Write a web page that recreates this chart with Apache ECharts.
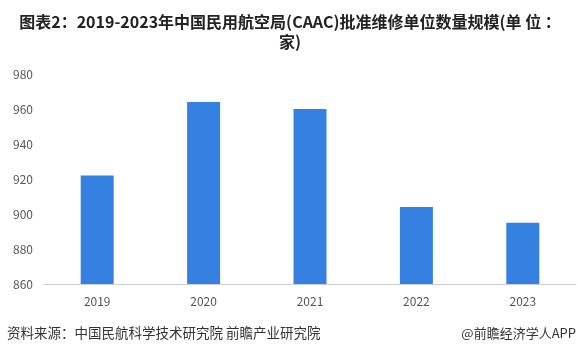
<!DOCTYPE html>
<html>
<head>
<meta charset="utf-8">
<script src="https://cdn.jsdelivr.net/npm/echarts@6/dist/echarts.min.js"></script>
<style>
html,body{margin:0;padding:0;background:#fff;}
#c{width:580px;height:356px;}
</style>
</head>
<body>
<div id="c"></div>
<script>
const categories = ['2019', '2020', '2021', '2022', '2023'];
const values = [922, 964, 960, 904, 895];
const yTicks = { min: 860, max: 980, interval: 20 };
const titleText = '图表2：2019-2023年中国民用航空局(CAAC)批准维修单位数量规模(单 位 ：\n家)';
const sourceText = '资料来源：中国民航科学技术研究院 前瞻产业研究院';
const brandText = '@前瞻经济学人APP';

const FONT = '"Noto Sans CJK SC", "Noto Sans", sans-serif';
const chart = echarts.init(document.getElementById('c'), null, { renderer: 'canvas' });
chart.setOption({
  backgroundColor: '#fff',
  animation: false,
  title: {
    text: titleText,
    left: 'center',
    top: 7,
    textStyle: { fontFamily: FONT, fontSize: 16, fontWeight: 'bold', color: '#222', lineHeight: 20 }
  },
  grid: { left: 44, right: 4, top: 74, bottom: 72, containLabel: false },
  xAxis: {
    type: 'category',
    data: categories,
    axisLine: { lineStyle: { color: '#d0d0d0', width: 1 } },
    axisTick: { show: false },
    axisLabel: { fontFamily: FONT, fontSize: 12, color: '#555', margin: 11 }
  },
  yAxis: {
    type: 'value',
    min: yTicks.min,
    max: yTicks.max,
    interval: yTicks.interval,
    axisLine: { show: false },
    axisTick: { show: false },
    splitLine: { show: false },
    axisLabel: { fontFamily: FONT, fontSize: 12, color: '#555', margin: 11 }
  },
  series: [{
    type: 'bar',
    data: values,
    barWidth: 33,
    itemStyle: { color: '#3581e2' }
  }],
  graphic: [
    {
      type: 'text', left: 7, top: 326,
      style: { text: sourceText, fontFamily: FONT, fontSize: 13.5, fill: '#333' }
    },
    {
      type: 'text', right: 4, top: 327,
      style: { text: brandText, fontFamily: FONT, fontSize: 13, fill: '#333' }
    }
  ]
});
</script>
</body>
</html>
